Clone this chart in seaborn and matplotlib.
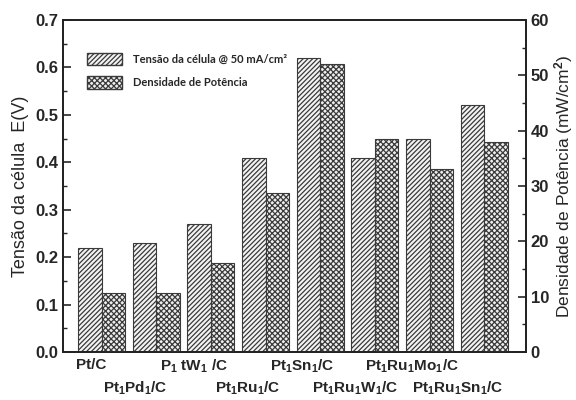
import matplotlib
matplotlib.use("Agg")
import matplotlib.pyplot as plt
import seaborn as sns
import pandas as pd
import numpy as np
from matplotlib.patches import Patch
from matplotlib.ticker import MultipleLocator

catalysts = ["Pt/C", "Pt$_1$Pd$_1$/C", "P$_1$ tW$_1$ /C", "Pt$_1$Ru$_1$/C",
             "Pt$_1$Sn$_1$/C", "Pt$_1$Ru$_1$W$_1$/C", "Pt$_1$Ru$_1$Mo$_1$/C",
             "Pt$_1$Ru$_1$Sn$_1$/C"]
tensao = [0.22, 0.23, 0.27, 0.41, 0.62, 0.41, 0.45, 0.52]
densidade = [10.7, 10.7, 16.1, 28.7, 52.1, 38.5, 33.0, 37.9]
series_names = ["Tensão da célula @ 50 mA/cm²", "Densidade de Potência"]

sns.set_theme(style="ticks")
plt.rcParams["font.family"] = ["Liberation Sans", "DejaVu Sans"]
plt.rcParams["mathtext.fontset"] = "custom"
plt.rcParams["mathtext.rm"] = "Liberation Sans:bold"
plt.rcParams["mathtext.it"] = "Liberation Sans:bold"
plt.rcParams["mathtext.bf"] = "Liberation Sans:bold"
plt.rcParams["hatch.linewidth"] = 0.9
plt.rcParams["hatch.color"] = "#2a2a2a"

df_t = pd.DataFrame({"cat": catalysts, "val": tensao, "serie": series_names[0]})
df_d = pd.DataFrame({"cat": catalysts, "val": densidade, "serie": series_names[1]})

fig, ax = plt.subplots(figsize=(5.76, 4.0), dpi=100)
fig.subplots_adjust(left=0.109, right=0.913, top=0.95, bottom=0.12)
ax2 = ax.twinx()

pal = {series_names[0]: "#f4f4f4", series_names[1]: "#eeeeee"}
hatches = {series_names[0]: "///////", series_names[1]: "xxxxxx"}
sns.barplot(data=df_t, x="cat", y="val", hue="serie", hue_order=series_names,
            order=catalysts, palette=pal, width=0.86, gap=0, dodge=True, ax=ax,
            edgecolor="#3a3a3a", linewidth=0.8, legend=False)
sns.barplot(data=df_d, x="cat", y="val", hue="serie", hue_order=series_names,
            order=catalysts, palette=pal, width=0.86, gap=0, dodge=True, ax=ax2,
            edgecolor="#3a3a3a", linewidth=0.8, legend=False)

for p in ax.patches:
    p.set_hatch(hatches[series_names[0]])
for p in ax2.patches:
    p.set_hatch(hatches[series_names[1]])

ax.set_xlim(-0.71, 7.76)
ax.set_ylim(0, 0.7)
ax2.set_ylim(0, 60)

ax.yaxis.set_major_locator(MultipleLocator(0.1))
ax.yaxis.set_minor_locator(MultipleLocator(0.05))
ax2.yaxis.set_major_locator(MultipleLocator(10))
ax2.yaxis.set_minor_locator(MultipleLocator(5))
ax.yaxis.set_major_formatter(matplotlib.ticker.FormatStrFormatter("%.1f"))

label_shift = [-0.19, -0.38, -0.31, -0.33, -0.33, -0.37, -0.33, -0.48]
ax.set_xticks([i + s for i, s in enumerate(label_shift)])
ax.set_xticklabels(catalysts, fontsize=11, fontweight="bold")
ax.tick_params(axis="x", length=0, pad=4)
for i, t in enumerate(ax.xaxis.get_major_ticks()):
    if i % 2 == 1:
        t.set_pad(20)

ax.tick_params(axis="y", which="major", direction="in", length=6, width=1.2,
               labelsize=12, right=False)
ax.tick_params(axis="y", which="minor", direction="in", length=3, width=1.0, right=False)
ax2.tick_params(axis="y", which="major", direction="in", length=6, width=1.2, labelsize=12)
ax2.tick_params(axis="y", which="minor", direction="in", length=3, width=1.0)
for lab in ax.get_yticklabels() + ax2.get_yticklabels():
    lab.set_fontweight("bold")

for a in (ax, ax2):
    for s in a.spines.values():
        s.set_visible(True)
        s.set_linewidth(1.3)
        s.set_color("#222222")

ax.set_xlabel("")
ax.set_ylabel("Tensão da célula  E(V)", fontsize=13, labelpad=4)
ax2.set_ylabel("Densidade de Potência (mW/cm$^2$)", fontsize=12.5, labelpad=2)
ax2.set_xlabel("")

handles = [Patch(facecolor=pal[n], edgecolor="#3a3a3a", hatch=hatches[n]) for n in series_names]
leg = ax.legend(handles, series_names, loc="upper left", bbox_to_anchor=(0.03, 0.93),
                frameon=False, prop={"family": "Lato", "weight": "bold", "size": 8},
                handlelength=3.2, handleheight=1.3, labelspacing=1.0, handletextpad=1.0)

fig.savefig("out.png", dpi=100)
